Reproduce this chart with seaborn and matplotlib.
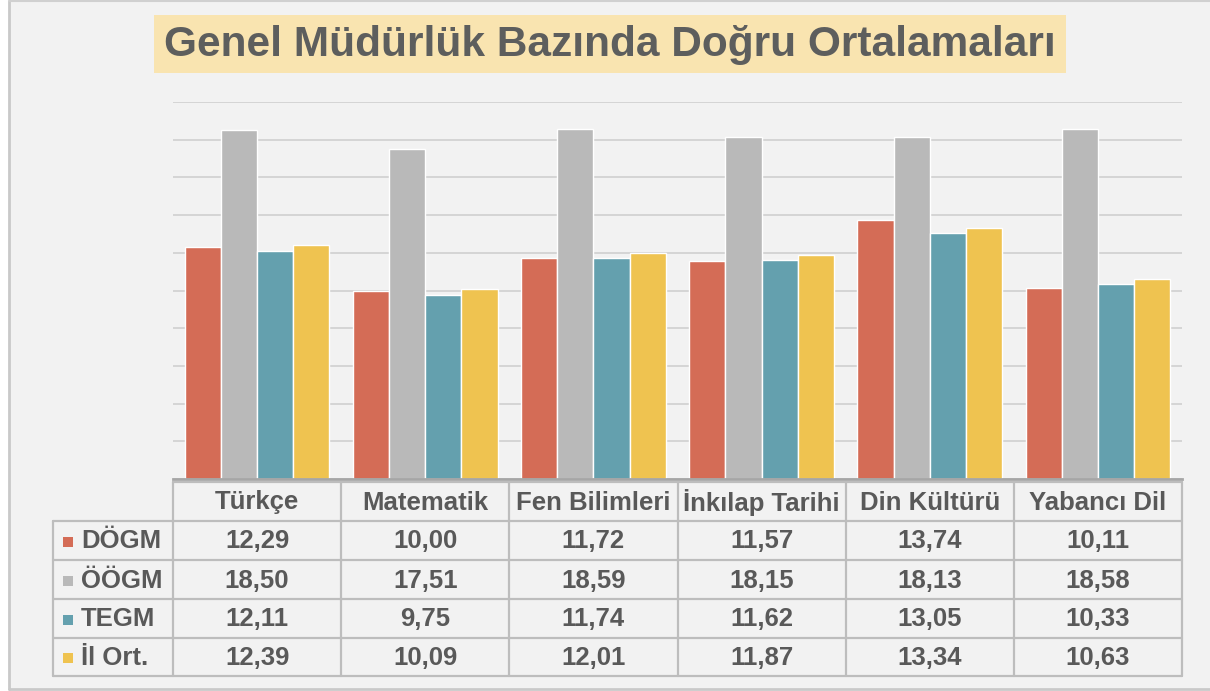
import numpy as np
import pandas as pd
import matplotlib.pyplot as plt
import seaborn as sns
from matplotlib.patches import Rectangle

# data
dersler = ['Türkçe', 'Matematik', 'Fen Bilimleri', 'İnkılap Tarihi', 'Din Kültürü', 'Yabancı Dil']
gruplar = ['DÖGM', 'ÖÖGM', 'TEGM', 'İl Ort.']
dogm = [12.29, 10.00, 11.72, 11.57, 13.74, 10.11]
oogm = [18.50, 17.51, 18.59, 18.15, 18.13, 18.58]
tegm = [12.11, 9.75, 11.74, 11.62, 13.05, 10.33]
il_ort = [12.39, 10.09, 12.01, 11.87, 13.34, 10.63]
baslik = 'Genel Müdürlük Bazında Doğru Ortalamaları'

renkler = ['#d46c56', '#b9b9b9', '#64a0ae', '#efc350']
yazi = '#595959'
W, H = 1210, 691

sns.set_theme(style='white')
plt.rcParams['font.family'] = ['Liberation Sans', 'DejaVu Sans']

seriler = [dogm, oogm, tegm, il_ort]
df = pd.DataFrame({
    'ders': np.tile(dersler, len(gruplar)),
    'grup': np.repeat(gruplar, len(dersler)),
    'deger': np.concatenate(seriler),
})

fig = plt.figure(figsize=(W / 100, H / 100), dpi=100, facecolor='white')

# background layer in pixel coords
bg = fig.add_axes([0, 0, 1, 1], zorder=0)
bg.set_xlim(0, W)
bg.set_ylim(H, 0)
bg.axis('off')
bg.add_patch(Rectangle((9, 1), W, 687, facecolor='#f2f2f2', edgecolor='none'))
bg.plot([8.5, 8.5], [0.5, 688.5], color='#c9c9c9', lw=2)
bg.plot([8.5, W], [0.5, 0.5], color='#d0d0d0', lw=1.5)
bg.plot([8.5, W], [688.5, 688.5], color='#c9c9c9', lw=2)

# bar axes
x0, x1, ytop, ybase = 173, 1182, 102, 479
ax = fig.add_axes([x0 / W, (H - ybase) / H, (x1 - x0) / W, (ybase - ytop) / H], zorder=1)
ax.set_facecolor('none')
sns.barplot(data=df, x='ders', y='deger', hue='grup', hue_order=gruplar,
            palette=renkler, saturation=1, width=0.86, edgecolor='white',
            linewidth=1, legend=False, ax=ax)
ax.set_xlim(-0.5, len(dersler) - 0.5)
ax.set_ylim(0, 20)
ax.set_yticks(np.arange(0, 21, 2))
ax.yaxis.grid(True, color='#d2d2d2', lw=1.3)
ax.set_axisbelow(True)
ax.tick_params(length=0, labelleft=False, labelbottom=False)
ax.set_xlabel('')
ax.set_ylabel('')
for s in ['top', 'right', 'left']:
    ax.spines[s].set_visible(False)
ax.spines['bottom'].set_color('#a6a6a6')
ax.spines['bottom'].set_linewidth(2)

# overlay: title and data table
ov = fig.add_axes([0, 0, 1, 1], zorder=2)
ov.set_xlim(0, W)
ov.set_ylim(H, 0)
ov.axis('off')
ov.patch.set_alpha(0)

ov.add_patch(Rectangle((154, 15), 912, 58, facecolor='#f9e4b0', edgecolor='none'))
ov.text(610, 45, baslik, ha='center', va='center', fontsize=30.5,
        fontweight='bold', color='#5d5e5d')

col_w = (x1 - x0) / len(dersler)
satir_y = [482, 521, 560, 599, 638, 676]
lab_x0 = 53
cizgi = dict(color='#bdbdbd', lw=1.6)

# horizontal lines
ov.plot([x0, x1], [satir_y[0], satir_y[0]], **cizgi)
for y in satir_y[1:]:
    ov.plot([lab_x0, x1], [y, y], **cizgi)
# vertical lines
for k in range(len(dersler) + 1):
    xx = x0 + k * col_w
    ov.plot([xx, xx], [satir_y[0], satir_y[-1]], **cizgi)
ov.plot([lab_x0, lab_x0], [satir_y[1], satir_y[-1]], **cizgi)

fs = 18.5
for k, d in enumerate(dersler):
    ov.text(x0 + (k + 0.5) * col_w, (satir_y[0] + satir_y[1]) / 2 + 1, d,
            ha='center', va='center', fontsize=fs, fontweight='bold', color=yazi)

for i, (g, vals) in enumerate(zip(gruplar, seriler)):
    yc = (satir_y[i + 1] + satir_y[i + 2]) / 2 + 1
    ov.add_patch(Rectangle((63, yc - 5), 10, 10, facecolor=renkler[i], edgecolor='none'))
    ov.text(81, yc, g, ha='left', va='center', fontsize=fs,
            fontweight='bold', color=yazi)
    for k, v in enumerate(vals):
        ov.text(x0 + (k + 0.5) * col_w, yc, f'{v:.2f}'.replace('.', ','),
                ha='center', va='center', fontsize=fs, fontweight='bold', color=yazi)

fig.savefig('out.png', dpi=100, facecolor=fig.get_facecolor())
